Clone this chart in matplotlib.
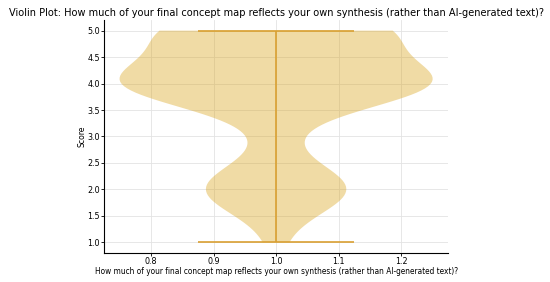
import numpy as np
import matplotlib
matplotlib.use('Agg')
import matplotlib.pyplot as plt

# Respuestas en escala 1-5 y cuántas veces aparece cada una
puntajes = [1, 2, 3, 4, 5]
conteos = [2, 20, 3, 42, 30]

pregunta = "How much of your final concept map reflects your own synthesis (rather than AI-generated text)?"

datos = np.repeat(puntajes, conteos)

plt.rcParams['font.family'] = 'DejaVu Sans'
plt.rcParams['font.stretch'] = 'condensed'

fig = plt.figure(figsize=(5.5, 2.82), dpi=100)
ax = fig.add_axes([0.189, 0.103, 0.626, 0.826])

partes = ax.violinplot([datos], positions=[1], widths=0.5)

for cuerpo in partes['bodies']:
    cuerpo.set_facecolor('#DAA520')
    cuerpo.set_edgecolor('none')
    cuerpo.set_alpha(0.4)

for clave in ['cbars', 'cmins', 'cmaxes']:
    partes[clave].set_color('#D9A032')
    partes[clave].set_linewidth(1.2)

ax.set_title("Violin Plot: " + pregunta, fontsize=7.8, pad=3)
ax.set_xlabel(pregunta, fontsize=5.95, labelpad=0.5)
ax.set_ylabel("Score", fontsize=6.2, labelpad=0.5)
ax.tick_params(labelsize=6.4, length=2, width=0.6, pad=0.8)

ax.grid(True, color='#e3e3e3', linewidth=0.6)
ax.set_axisbelow(True)
ax.spines['top'].set_visible(False)
ax.spines['right'].set_visible(False)
ax.spines['left'].set_linewidth(0.8)
ax.spines['bottom'].set_linewidth(0.8)

fig.savefig('out.png', dpi=100)
